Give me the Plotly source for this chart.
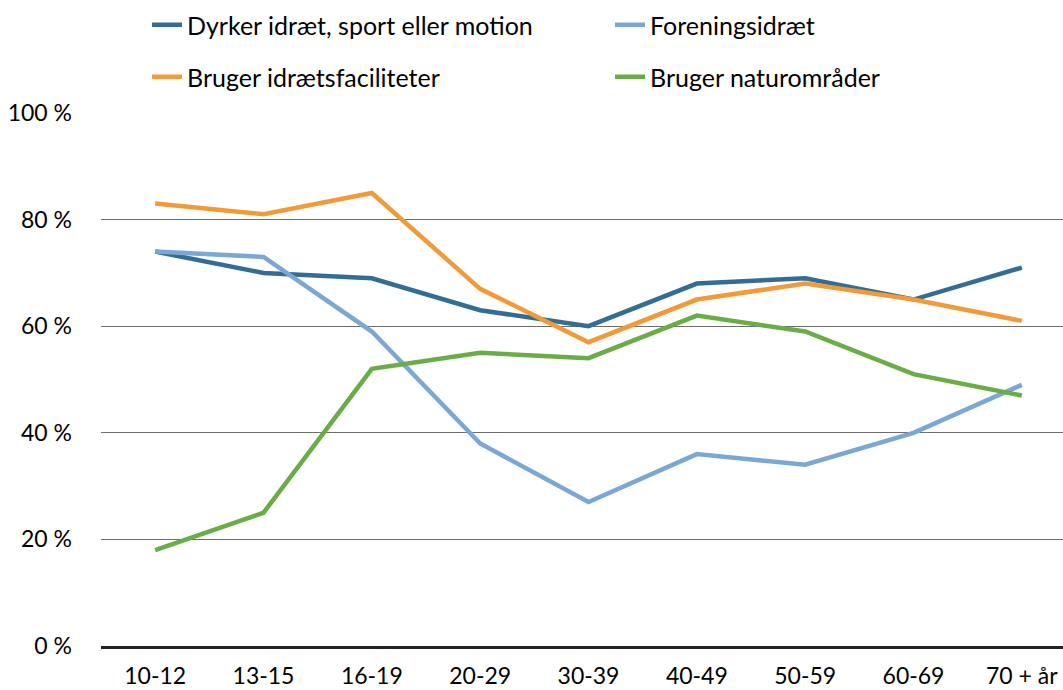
import plotly.graph_objects as go

categories = ["10-12", "13-15", "16-19", "20-29", "30-39", "40-49", "50-59", "60-69", "70 + år"]
dyrker = [74, 70, 69, 63, 60, 68, 69, 65, 71]
forening = [74, 73, 59, 38, 27, 36, 34, 40, 49]
faciliteter = [83, 81, 85, 67, 57, 65, 68, 65, 61]
natur = [18, 25, 52, 55, 54, 62, 59, 51, 47]
y_ticks = [0, 20, 40, 60, 80, 100]
y_tick_labels = ["0 %", "20 %", "40 %", "60 %", "80 %", "100 %"]

names = ["Dyrker idræt, sport eller motion", "Foreningsidræt",
         "Bruger idrætsfaciliteter", "Bruger naturområder"]
colors = ["#336c94", "#7ba7d4", "#f19a3a", "#6aad47"]
series = [dyrker, forening, faciliteter, natur]
legends = ["legend", "legend2", "legend3", "legend4"]

FONT = "Lato"
FS_TICK = 23
FS_LEG = 25

fig = go.Figure()
for nm, col, vals, lg in zip(names, colors, series, legends):
    fig.add_trace(go.Scatter(
        x=list(range(len(categories))), y=vals, mode="lines", name=nm,
        line=dict(color=col, width=4.5), legend=lg,
    ))

leg_common = dict(orientation="h", xanchor="left", yanchor="middle",
                  font=dict(family=FONT, size=FS_LEG, color="#000000"),
                  bgcolor="rgba(0,0,0,0)")

# plot area: x 101..1063 (962 px), y 113..646 (533 px)
def px_x(p):
    return (p - 101) / 962.0

def px_y(p):
    return (646 - p) / 533.0

fig.update_layout(
    width=1063, height=690,
    margin=dict(l=101, r=0, t=113, b=44),
    paper_bgcolor="white", plot_bgcolor="white",
    font=dict(family=FONT, size=FS_TICK, color="#000000"),
    showlegend=True,
    legend=dict(x=px_x(147), y=px_y(25), **leg_common),
    legend2=dict(x=px_x(610), y=px_y(25), **leg_common),
    legend3=dict(x=px_x(147), y=px_y(77), **leg_common),
    legend4=dict(x=px_x(610), y=px_y(77), **leg_common),
    xaxis=dict(
        tickmode="array", tickvals=list(range(len(categories))), ticktext=categories,
        range=[-0.5, 8.38], showgrid=False, zeroline=False,
        showline=True, linecolor="#222222", linewidth=2.5,
        ticks="", ticklabelstandoff=8, automargin=False,
        tickfont=dict(family=FONT, size=FS_TICK),
    ),
    yaxis=dict(
        range=[0, 100], tickmode="array", tickvals=y_ticks, ticktext=y_tick_labels,
        showgrid=True, gridcolor="#6e6e6e", gridwidth=1.2, zeroline=False,
        showline=False, ticks="", ticklabelstandoff=28, automargin=False,
        tickfont=dict(family=FONT, size=FS_TICK),
    ),
)

fig.write_html("out.html",
               config={"displayModeBar": False},
               post_script="document.body.style.margin='0';document.body.style.overflow='hidden';")
